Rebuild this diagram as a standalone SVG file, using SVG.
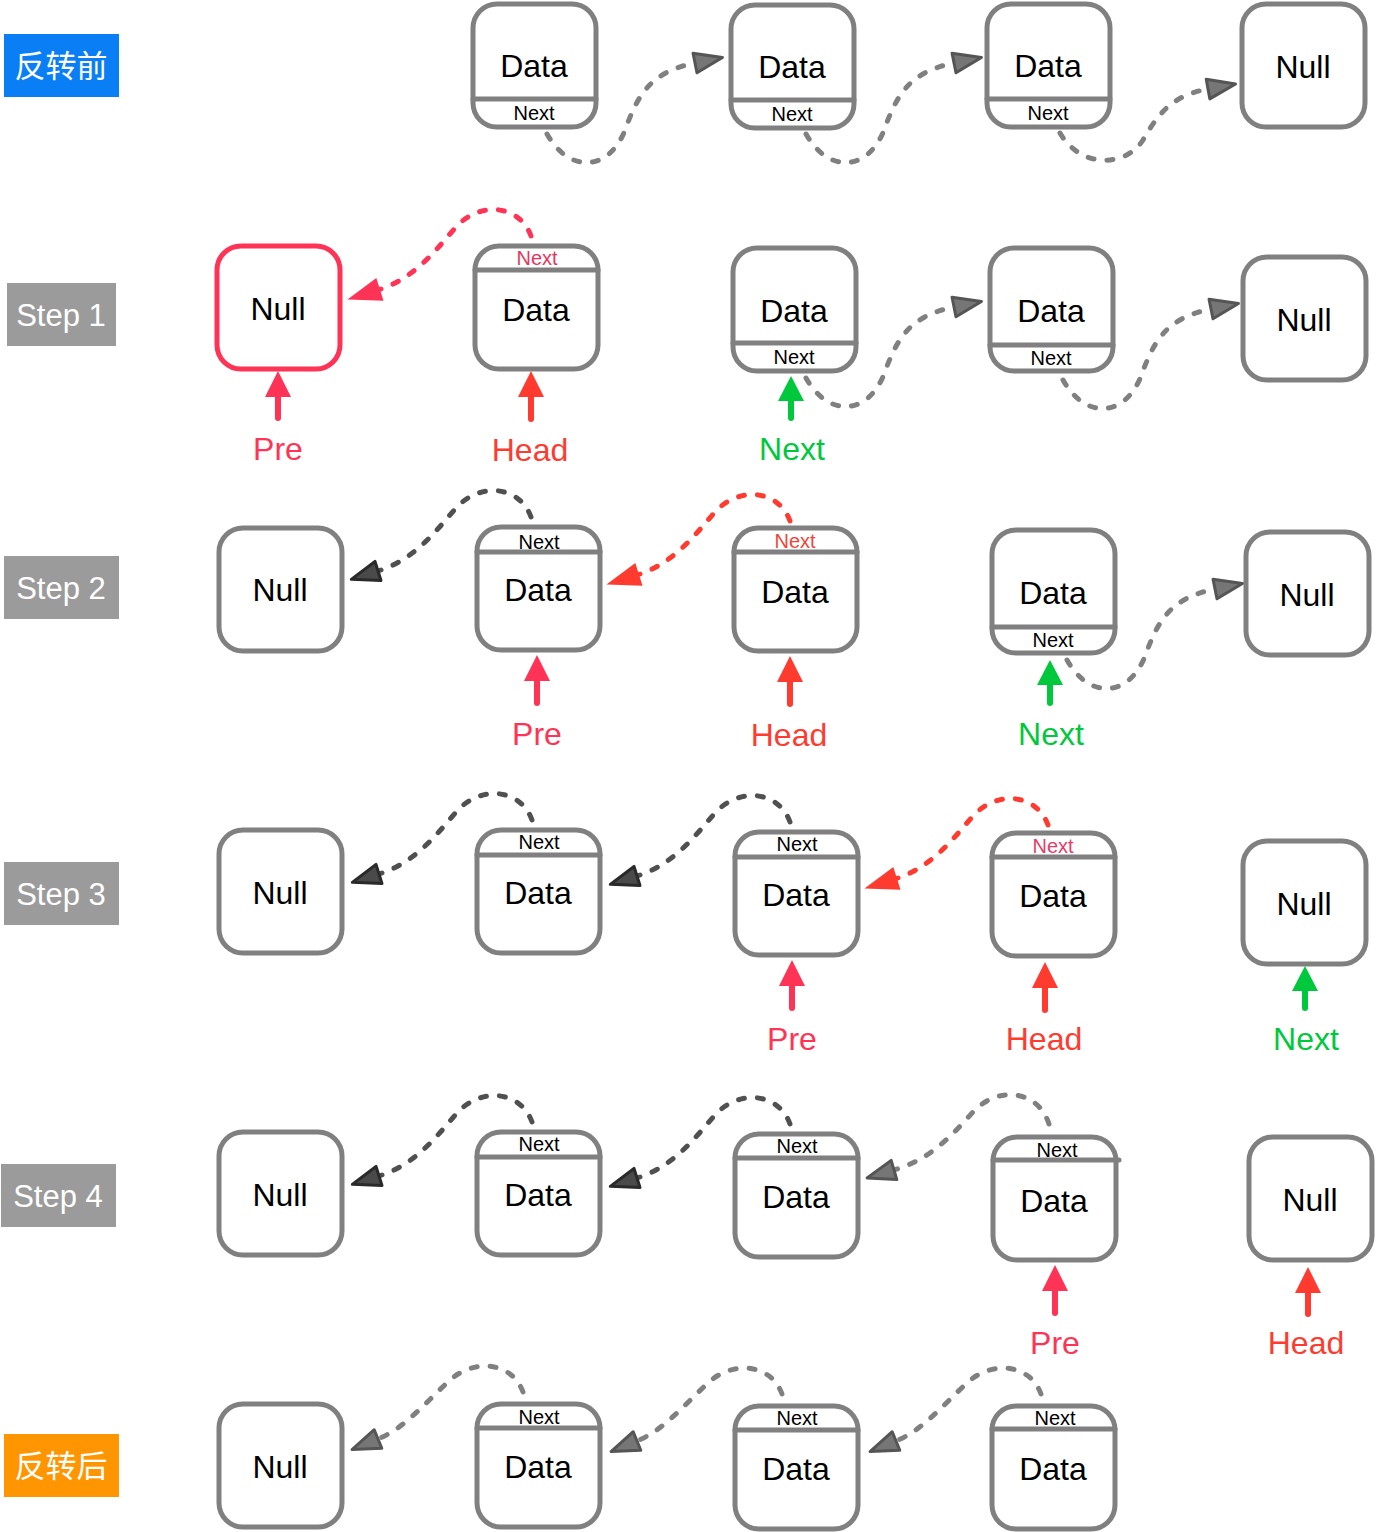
<svg xmlns="http://www.w3.org/2000/svg" width="1376" height="1532" viewBox="0 0 1376 1532">
<style>
  .box{fill:#fff;stroke:#808080;stroke-width:5}
  .boxred{fill:#fff;stroke:#ff3355;stroke-width:5}
  .div{stroke:#808080;stroke-width:5;stroke-linecap:round}
  .t{font-family:"Liberation Sans",Arial,sans-serif;font-size:32px;fill:#000;text-anchor:middle}
  .s{font-family:"Liberation Sans",Arial,sans-serif;font-size:20px;fill:#000;text-anchor:middle}
  .lbl{font-family:"Liberation Sans",Arial,sans-serif;font-size:31px;fill:#fff;text-anchor:middle}
  .cjk{font-family:"Liberation Sans","Noto Sans CJK SC",sans-serif;font-size:31px;fill:#fff;text-anchor:middle}
  .ptr{font-family:"Liberation Sans",Arial,sans-serif;font-size:32px;text-anchor:middle}
  .dash{fill:none;stroke-width:5;stroke-linecap:round;stroke-dasharray:6 13}
  .gray{stroke:#808080}
  .dark{stroke:#505050}
  .pink{stroke:#ff3355}
  .red{stroke:#ff3b30}
</style>
<defs>
  <marker id="mGray" markerUnits="userSpaceOnUse" orient="auto" overflow="visible" markerWidth="1" markerHeight="1" refX="0" refY="0">
    <path d="M0,-10 L28,0 L0,10 z" fill="#767676" stroke="#555" stroke-width="3" stroke-linejoin="round"/>
  </marker>
  <marker id="mDark" markerUnits="userSpaceOnUse" orient="auto" overflow="visible" markerWidth="1" markerHeight="1" refX="0" refY="0">
    <path d="M0,-10 L28,0 L0,10 z" fill="#4a4a4a" stroke="#2a2a2a" stroke-width="3" stroke-linejoin="round"/>
  </marker>
  <marker id="mPink" markerUnits="userSpaceOnUse" orient="auto" overflow="visible" markerWidth="1" markerHeight="1" refX="0" refY="0">
    <path d="M-2,-12 L32,0 L-2,12 z" fill="#ff3355"/>
  </marker>
  <marker id="mRed" markerUnits="userSpaceOnUse" orient="auto" overflow="visible" markerWidth="1" markerHeight="1" refX="0" refY="0">
    <path d="M-2,-12 L32,0 L-2,12 z" fill="#ff3b30"/>
  </marker>
</defs>

<!-- Row labels -->
<g id="label-before"><rect x="4" y="34" width="115" height="63" fill="#0a7ff5"/><text class="cjk" x="61" y="77">反转前</text></g>
<g id="label-step1"><rect x="7" y="283" width="109" height="63" fill="#9b9b9b"/><text class="lbl" x="61" y="326">Step 1</text></g>
<g id="label-step2"><rect x="4" y="556" width="115" height="63" fill="#9b9b9b"/><text class="lbl" x="61" y="599">Step 2</text></g>
<g id="label-step3"><rect x="4" y="862" width="115" height="63" fill="#9b9b9b"/><text class="lbl" x="61" y="905">Step 3</text></g>
<g id="label-step4"><rect x="1" y="1164" width="115" height="63" fill="#9b9b9b"/><text class="lbl" x="58" y="1207">Step 4</text></g>
<g id="label-after"><rect x="4" y="1434" width="115" height="63" fill="#ff9500"/><text class="cjk" x="61" y="1477">反转后</text></g>

<!-- Row 0 -->
<g id="r0-a"><rect class="box" x="473" y="4" width="123" height="123" rx="24"/><line class="div" x1="473" y1="99" x2="596" y2="99"/><text class="t" x="534" y="77">Data</text><text class="s" x="534" y="120">Next</text></g>
<g id="r0-b"><rect class="box" x="731" y="5" width="123" height="123" rx="24"/><line class="div" x1="731" y1="100" x2="854" y2="100"/><text class="t" x="792" y="78">Data</text><text class="s" x="792" y="121">Next</text></g>
<g id="r0-c"><rect class="box" x="987" y="4" width="123" height="123" rx="24"/><line class="div" x1="987" y1="99" x2="1110" y2="99"/><text class="t" x="1048" y="77">Data</text><text class="s" x="1048" y="120">Next</text></g>
<g id="r0-null"><rect class="box" x="1242" y="4" width="123" height="123" rx="24"/><text class="t" x="1303" y="78">Null</text></g>

<!-- Row 1 -->
<g id="r1-null"><rect class="boxred" x="217" y="246" width="123" height="123" rx="24"/><text class="t" x="278" y="320">Null</text></g>
<g id="r1-a"><rect class="box" x="475" y="246" width="123" height="123" rx="24"/><line class="div" x1="475" y1="270" x2="598" y2="270"/><text class="s" x="537" y="265" style="fill:#e8365d">Next</text><text class="t" x="536" y="321">Data</text></g>
<g id="r1-b"><rect class="box" x="733" y="248" width="123" height="123" rx="24"/><line class="div" x1="733" y1="343" x2="856" y2="343"/><text class="t" x="794" y="322">Data</text><text class="s" x="794" y="364">Next</text></g>
<g id="r1-c"><rect class="box" x="990" y="248" width="123" height="123" rx="24"/><line class="div" x1="990" y1="345" x2="1113" y2="345"/><text class="t" x="1051" y="322">Data</text><text class="s" x="1051" y="365">Next</text></g>
<g id="r1-null2"><rect class="box" x="1243" y="257" width="123" height="123" rx="24"/><text class="t" x="1304" y="331">Null</text></g>

<!-- Row 2 -->
<g id="r2-null"><rect class="box" x="219" y="528" width="123" height="123" rx="24"/><text class="t" x="280" y="601">Null</text></g>
<g id="r2-a"><rect class="box" x="477" y="527" width="123" height="123" rx="24"/><line class="div" x1="477" y1="552" x2="600" y2="552"/><text class="s" x="539" y="549">Next</text><text class="t" x="538" y="601">Data</text></g>
<g id="r2-b"><rect class="box" x="734" y="528" width="123" height="123" rx="24"/><line class="div" x1="734" y1="552" x2="857" y2="552"/><text class="s" x="795" y="548" style="fill:#f0453a">Next</text><text class="t" x="795" y="603">Data</text></g>
<g id="r2-c"><rect class="box" x="992" y="530" width="123" height="123" rx="24"/><line class="div" x1="992" y1="627" x2="1115" y2="627"/><text class="t" x="1053" y="604">Data</text><text class="s" x="1053" y="647">Next</text></g>
<g id="r2-null2"><rect class="box" x="1246" y="532" width="123" height="123" rx="24"/><text class="t" x="1307" y="606">Null</text></g>

<!-- Row 3 -->
<g id="r3-null"><rect class="box" x="219" y="830" width="123" height="123" rx="24"/><text class="t" x="280" y="904">Null</text></g>
<g id="r3-a"><rect class="box" x="477" y="830" width="123" height="123" rx="24"/><line class="div" x1="477" y1="855" x2="600" y2="855"/><text class="s" x="539" y="849">Next</text><text class="t" x="538" y="904">Data</text></g>
<g id="r3-b"><rect class="box" x="735" y="832" width="123" height="123" rx="24"/><line class="div" x1="735" y1="857" x2="858" y2="857"/><text class="s" x="797" y="851">Next</text><text class="t" x="796" y="906">Data</text></g>
<g id="r3-c"><rect class="box" x="992" y="833" width="123" height="123" rx="24"/><line class="div" x1="992" y1="857" x2="1115" y2="857"/><text class="s" x="1053" y="853" style="fill:#e63b6a">Next</text><text class="t" x="1053" y="907">Data</text></g>
<g id="r3-null2"><rect class="box" x="1243" y="841" width="123" height="123" rx="24"/><text class="t" x="1304" y="915">Null</text></g>

<!-- Row 4 -->
<g id="r4-null"><rect class="box" x="219" y="1132" width="123" height="123" rx="24"/><text class="t" x="280" y="1206">Null</text></g>
<g id="r4-a"><rect class="box" x="477" y="1132" width="123" height="123" rx="24"/><line class="div" x1="477" y1="1157" x2="600" y2="1157"/><text class="s" x="539" y="1151">Next</text><text class="t" x="538" y="1206">Data</text></g>
<g id="r4-b"><rect class="box" x="735" y="1134" width="123" height="123" rx="24"/><line class="div" x1="735" y1="1158" x2="858" y2="1158"/><text class="s" x="797" y="1153">Next</text><text class="t" x="796" y="1208">Data</text></g>
<g id="r4-c"><rect class="box" x="993" y="1137" width="123" height="123" rx="24"/><line class="div" x1="993" y1="1160" x2="1119" y2="1160"/><text class="s" x="1057" y="1157">Next</text><text class="t" x="1054" y="1212">Data</text></g>
<g id="r4-null2"><rect class="box" x="1249" y="1137" width="123" height="123" rx="24"/><text class="t" x="1310" y="1211">Null</text></g>

<!-- Row 5 -->
<g id="r5-null"><rect class="box" x="219" y="1404" width="123" height="123" rx="24"/><text class="t" x="280" y="1478">Null</text></g>
<g id="r5-a"><rect class="box" x="477" y="1404" width="123" height="123" rx="24"/><line class="div" x1="477" y1="1428" x2="600" y2="1428"/><text class="s" x="539" y="1424">Next</text><text class="t" x="538" y="1478">Data</text></g>
<g id="r5-b"><rect class="box" x="735" y="1406" width="123" height="123" rx="24"/><line class="div" x1="735" y1="1430" x2="858" y2="1430"/><text class="s" x="797" y="1425">Next</text><text class="t" x="796" y="1480">Data</text></g>
<g id="r5-c"><rect class="box" x="992" y="1406" width="123" height="123" rx="24"/><line class="div" x1="992" y1="1429" x2="1115" y2="1429"/><text class="s" x="1055" y="1425">Next</text><text class="t" x="1053" y="1480">Data</text></g>

<!-- Connectors -->
<g id="connectors">
  <!-- forward links -->
  <path class="dash gray" marker-end="url(#mGray)" d="M547,134 C570,175 610,170 625,130 C638,95 650,72 695,63"/>
  <path class="dash gray" marker-end="url(#mGray)" d="M806,134 C829,175 869,170 884,130 C897,95 909,72 954,63"/>
  <path class="dash gray" marker-end="url(#mGray)" d="M1060,133 C1080,168 1125,168 1143,140 C1160,110 1175,95 1208,89"/>
  <path class="dash gray" marker-end="url(#mGray)" d="M806,378 C829,419 869,414 884,374 C897,339 909,316 954,307"/>
  <path class="dash gray" marker-end="url(#mGray)" d="M1063,380 C1086,421 1126,416 1141,376 C1154,341 1166,318 1211,309"/>
  <path class="dash gray" marker-end="url(#mGray)" d="M1067,660 C1090,701 1130,696 1145,656 C1158,621 1170,598 1215,589"/>
  <!-- reversed links -->
  <path class="dash pink" marker-end="url(#mPink)" d="M531,236 C520,205 480,200 455,228 C430,258 410,280 378,290"/>
  <path class="dash dark" marker-end="url(#mDark)" d="M531,517 C520,486 480,481 455,509 C430,539 410,561 378,571"/>
  <path class="dash red" marker-end="url(#mRed)" d="M790,521 C779,490 739,485 714,513 C689,543 669,565 637,575"/>
  <path class="dash dark" marker-end="url(#mDark)" d="M532,820 C521,789 481,784 456,812 C431,842 411,864 379,874"/>
  <path class="dash dark" marker-end="url(#mDark)" d="M790,822 C779,791 739,786 714,814 C689,844 669,866 637,876"/>
  <path class="dash red" marker-end="url(#mRed)" d="M1048,825 C1037,794 997,789 972,817 C947,847 927,869 895,879"/>
  <path class="dash dark" marker-end="url(#mDark)" d="M532,1122 C521,1091 481,1086 456,1114 C431,1144 411,1166 379,1176"/>
  <path class="dash dark" marker-end="url(#mDark)" d="M790,1124 C779,1093 739,1088 714,1116 C689,1146 669,1168 637,1178"/>
  <path class="dash gray" marker-end="url(#mGray)" d="M1049,1124 C1038,1090 998,1085 973,1112 C948,1140 928,1160 894,1170"/>
  <path class="dash gray" marker-end="url(#mGray)" d="M523,1392 C512,1362 475,1358 450,1380 C425,1403 405,1428 378,1439"/>
  <path class="dash gray" marker-end="url(#mGray)" d="M782,1394 C771,1364 734,1360 709,1382 C684,1405 664,1430 637,1441"/>
  <path class="dash gray" marker-end="url(#mGray)" d="M1041,1394 C1030,1364 993,1360 968,1382 C943,1405 923,1430 896,1441"/>
</g>

<!-- Pointers -->
<g id="ptr-s1-pre"><line x1="278" y1="418" x2="278" y2="392" stroke="#ff3355" stroke-width="6" stroke-linecap="round"/><path d="M278,371 L291,397 L265,397 z" fill="#ff3355"/><text class="ptr" x="278" y="460" fill="#ff3355">Pre</text></g>
<g id="ptr-s1-head"><line x1="531" y1="419" x2="531" y2="392" stroke="#ff3b30" stroke-width="6" stroke-linecap="round"/><path d="M531,371 L544,397 L518,397 z" fill="#ff3b30"/><text class="ptr" x="530" y="461" fill="#ff3b30">Head</text></g>
<g id="ptr-s1-next"><line x1="791" y1="418" x2="791" y2="396" stroke="#00c83c" stroke-width="6" stroke-linecap="round"/><path d="M791,376 L804,401 L778,401 z" fill="#00c83c"/><text class="ptr" x="792" y="460" fill="#00c83c">Next</text></g>

<g id="ptr-s2-pre"><line x1="537" y1="703" x2="537" y2="676" stroke="#ff3355" stroke-width="6" stroke-linecap="round"/><path d="M537,655 L550,681 L524,681 z" fill="#ff3355"/><text class="ptr" x="537" y="745" fill="#ff3355">Pre</text></g>
<g id="ptr-s2-head"><line x1="790" y1="704" x2="790" y2="677" stroke="#ff3b30" stroke-width="6" stroke-linecap="round"/><path d="M790,656 L803,682 L777,682 z" fill="#ff3b30"/><text class="ptr" x="789" y="746" fill="#ff3b30">Head</text></g>
<g id="ptr-s2-next"><line x1="1050" y1="703" x2="1050" y2="680" stroke="#00c83c" stroke-width="6" stroke-linecap="round"/><path d="M1050,660 L1063,685 L1037,685 z" fill="#00c83c"/><text class="ptr" x="1051" y="745" fill="#00c83c">Next</text></g>

<g id="ptr-s3-pre"><line x1="792" y1="1008" x2="792" y2="981" stroke="#ff3355" stroke-width="6" stroke-linecap="round"/><path d="M792,960 L805,986 L779,986 z" fill="#ff3355"/><text class="ptr" x="792" y="1050" fill="#ff3355">Pre</text></g>
<g id="ptr-s3-head"><line x1="1045" y1="1010" x2="1045" y2="983" stroke="#ff3b30" stroke-width="6" stroke-linecap="round"/><path d="M1045,962 L1058,988 L1032,988 z" fill="#ff3b30"/><text class="ptr" x="1044" y="1050" fill="#ff3b30">Head</text></g>
<g id="ptr-s3-next"><line x1="1305" y1="1008" x2="1305" y2="986" stroke="#00c83c" stroke-width="6" stroke-linecap="round"/><path d="M1305,966 L1318,991 L1292,991 z" fill="#00c83c"/><text class="ptr" x="1306" y="1050" fill="#00c83c">Next</text></g>

<g id="ptr-s4-pre"><line x1="1055" y1="1313" x2="1055" y2="1286" stroke="#ff3355" stroke-width="6" stroke-linecap="round"/><path d="M1055,1265 L1068,1291 L1042,1291 z" fill="#ff3355"/><text class="ptr" x="1055" y="1354" fill="#ff3355">Pre</text></g>
<g id="ptr-s4-head"><line x1="1308" y1="1314" x2="1308" y2="1288" stroke="#ff3b30" stroke-width="6" stroke-linecap="round"/><path d="M1308,1267 L1321,1293 L1295,1293 z" fill="#ff3b30"/><text class="ptr" x="1306" y="1354" fill="#ff3b30">Head</text></g>
</svg>
